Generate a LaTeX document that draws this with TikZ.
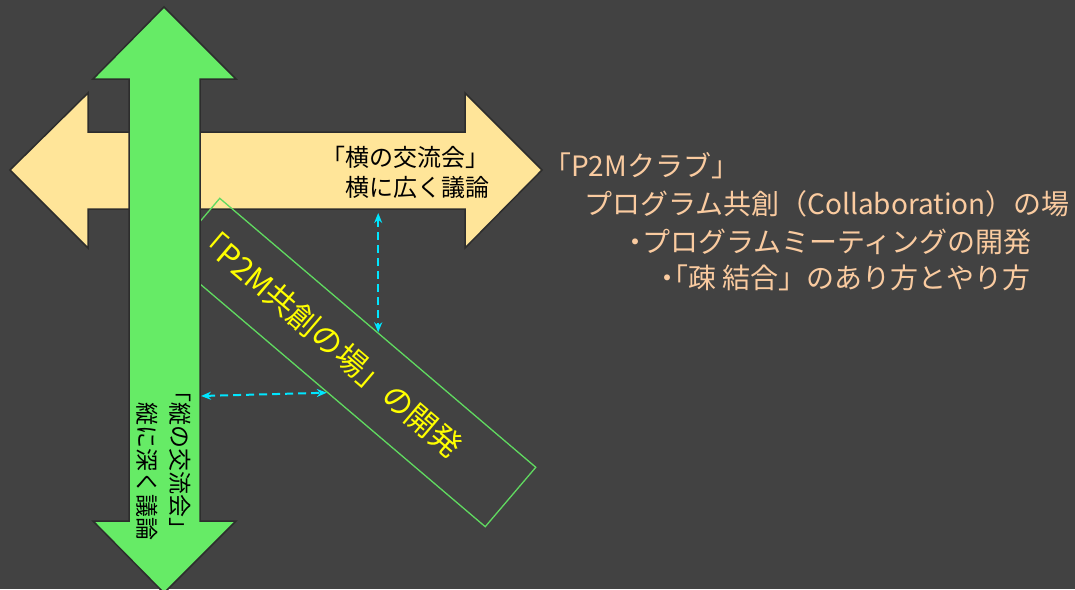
\documentclass[tikz,border=0pt]{standalone}
\usepackage{fontspec}
\setmainfont{Noto Sans CJK JP}
\newfontfamily\propjp[RawFeature=+palt]{Noto Sans CJK JP}
\usetikzlibrary{arrows.meta}
\definecolor{bg}{RGB}{66,66,66}
\definecolor{beige}{RGB}{255,229,153}
\definecolor{agreen}{RGB}{102,235,102}
\definecolor{boxgreen}{RGB}{96,218,96}
\definecolor{edge}{RGB}{45,45,45}
\definecolor{dcyan}{RGB}{0,230,255}
\definecolor{peach}{RGB}{250,203,160}
\definecolor{ylw}{RGB}{255,255,0}
\begin{document}
\begin{tikzpicture}[x=1pt,y=-1pt,
  bigarrow/.style={draw=edge,line width=1.5pt,line join=miter},
  dashlink/.style={dcyan,line width=2pt,dash pattern=on 8pt off 5pt,{Stealth[length=10pt,width=8pt]}-{Stealth[length=10pt,width=8pt]}},
  info/.style={peach,font=\fontsize{28}{34}\selectfont,inner sep=0pt,anchor=base west}]
\fill[bg] (0,0) rectangle (1075,589);
\useasboundingbox (0,0) rectangle (1075,589);
% horizontal double arrow
\filldraw[bigarrow,fill=beige] (10,170) -- (88,93) -- (88,132) -- (465,132) -- (465,93) -- (542,170)
  -- (465,248) -- (465,209) -- (88,209) -- (88,248) -- cycle;
\node[font=\fontsize{24}{30}\selectfont, align=right, anchor=east, inner sep=0pt] (htext) at (490,172) {「横の交流会」\\横に広く議論};
% tilted box
\node[draw=boxgreen, line width=1.3pt, rotate=-40.4, minimum width=415pt, minimum height=78pt, inner sep=0pt] (box) at (352.5,362.5) {};
\node[ylw, font=\fontsize{31}{36}\selectfont, rotate=-40.4, inner sep=0pt] (boxlabel) at (328,340) {「P2M共創の場」の開発};
% vertical double arrow
\filldraw[bigarrow,fill=agreen] (164,7) -- (236,79) -- (200,79) -- (200,521) -- (236,521) -- (164,593)
  -- (93,521) -- (129,521) -- (129,79) -- (93,79) -- cycle;
\node[font=\fontsize{23}{33}\selectfont, align=right, rotate=-90, anchor=east, inner sep=0pt] (vtext) at (164,541) {「縦の交流会」\\縦に深く議論};
% dashed links
\coordinate (hgap) at (box.north |- 0,213);
\draw[dashlink] (hgap) -- (box.north);
\coordinate (vgap) at (201,396);
\draw[dashlink] (vgap) -- (box.south);
% right text
\node[info] (club) at (543,176) {「P2Mクラブ」};
\node[info] (place) at (584,214) {プログラム共創（Collaboration）の場};
\node[info] (meeting) at (628,252) {{\propjp ・}プログラムミーティングの開発};
\node[info] (coupling) at (660,288) {{\propjp ・「}疎 結合」のあり方とやり方};
\end{tikzpicture}
\end{document}
